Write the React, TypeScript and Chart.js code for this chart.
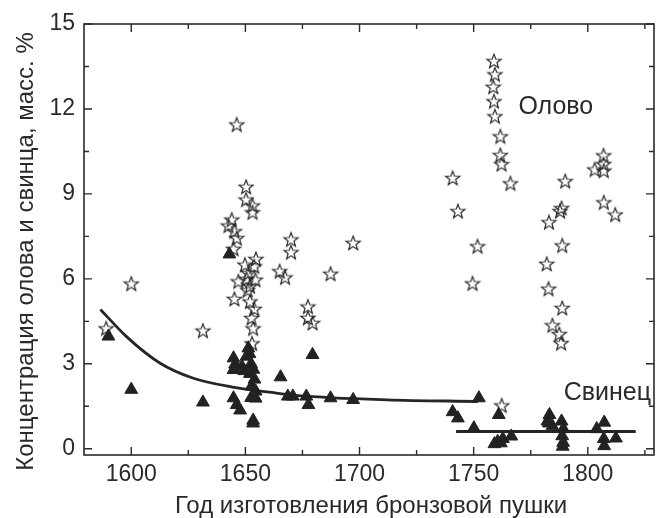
import React, { useEffect, useRef } from 'react';
import { Chart, registerables } from 'chart.js';

Chart.register(...registerables);

// ---- Data ----
const tinYears = [
  1589, 1600, 1631.4, 1646.2,
  1650.3, 1650.3, 1653.1, 1653.1, 1644, 1642.6, 1645.2, 1646.2, 1644.8,
  1654.6, 1649.8, 1653.9, 1651.3, 1646.9, 1654.4, 1652, 1645.2, 1652, 1653.9, 1652.7, 1653.4, 1652.9, 1650.5, 1651,
  1665, 1667.4, 1670, 1670, 1677.4, 1677.4, 1679.4, 1687.3, 1697.2,
  1740.8, 1743.1, 1751.7, 1749.5,
  1758.9, 1759.3, 1758.6, 1758.9, 1759.3, 1761.7, 1761.7, 1762.2, 1766.1, 1762.3,
  1790.1, 1788.5, 1787.8, 1783, 1788.8, 1782, 1782.8, 1788.8, 1784.5, 1787.5, 1788.3,
  1803, 1806.9, 1806.9, 1807, 1807, 1812,
];
const tinValues = [
  4.25, 5.83, 4.17, 11.45,
  9.25, 8.8, 8.59, 8.35, 8.09, 7.88, 7.68, 7.44, 7.06,
  6.7, 6.5, 6.44, 6.21, 5.91, 5.97, 5.74, 5.29, 5.2, 4.94, 4.62, 4.25, 3.72, 6.0, 5.6,
  6.27, 6.05, 7.39, 6.94, 5.02, 4.62, 4.44, 6.18, 7.27,
  9.56, 8.39, 7.15, 5.84,
  13.69, 13.22, 12.78, 12.27, 11.74, 11.03, 10.37, 10.05, 9.37, 1.53,
  9.45, 8.5, 8.39, 8.0, 7.18, 6.53, 5.65, 4.97, 4.36, 4.05, 3.73,
  9.86, 10.36, 10.05, 9.82, 8.7, 8.27,
];

const leadYears = [
  1590, 1600, 1631.4, 1643,
  1644.8, 1645.5, 1644.8, 1651.3, 1651.8, 1650.5, 1652.5, 1653.5, 1652, 1654, 1652.8, 1654.5, 1652.5, 1654.5,
  1644.8, 1646.2, 1647.7, 1653.4, 1653.4, 1648.5, 1649.5,
  1665.4, 1668.6, 1670.8, 1676.7, 1677.6, 1679.4, 1687.3, 1697.2,
  1752.3, 1740.8, 1743.1, 1750.1, 1761, 1759.1, 1761.9, 1762.8, 1766.5, 1760.5,
  1783.2, 1782.3, 1784.5, 1783, 1788.5, 1789.3, 1788.8, 1789.2, 1789,
  1803.9, 1807.2, 1807, 1807.2, 1812.3,
];
const leadValues = [
  3.97, 2.09, 1.64, 6.87,
  3.2, 2.98, 2.79, 3.55, 3.35, 3.26, 3.0, 2.8, 2.65, 2.45, 2.22, 2.03, 1.8, 1.78,
  1.79, 1.55, 1.36, 1.0, 0.9, 2.9, 2.75,
  2.53, 1.85, 1.85, 1.85, 1.55, 3.32, 1.79, 1.73,
  1.79, 1.3, 1.08, 0.73, 1.2, 0.17, 0.2, 0.35, 0.44, 0.25,
  1.2, 0.97, 0.8, 0.9, 0.97, 0.7, 0.45, 0.22, 0.08,
  0.7, 0.93, 0.35, 0.1, 0.37,
];

// fitted trend lines
const fitEarlyYears = [1586.5, 1597.8, 1612.5, 1626.9, 1644.3, 1663.1, 1673, 1712, 1751.8];
const fitEarlyValues = [4.92, 3.97, 3.03, 2.5, 2.18, 1.97, 1.88, 1.73, 1.67];
const fitLateYears = [1742.3, 1821];
const fitLateValues = [0.61, 0.61];

const xTickValues = [1600, 1650, 1700, 1750, 1800];
const xMinorValues = [1625, 1675, 1725, 1775, 1825];
const yTickValues = [0, 3, 6, 9, 12, 15];
const yMinorValues = [1.5, 4.5, 7.5, 10.5, 13.5];

const xTitle = 'Год изготовления бронзовой пушки';
const yTitle = 'Концентрация олова и свинца, масс. %';
const tinLabel = 'Олово';
const leadLabel = 'Свинец';
const tinLabelAt = [1786, 12.08];
const leadLabelAt = [1808.6, 1.98];

const FONT = '"Liberation Sans", Arial, sans-serif';
const INK = '#2a2a2a';

function makeStar(): HTMLCanvasElement {
  const c = document.createElement('canvas');
  c.width = 18;
  c.height = 18;
  const ctx = c.getContext('2d')!;
  const cx = 9, cy = 9.5, R = 7.4, r = 3.1;
  ctx.beginPath();
  for (let i = 0; i < 10; i++) {
    const rad = i % 2 === 0 ? R : r;
    const a = -Math.PI / 2 + (i * Math.PI) / 5;
    const px = cx + rad * Math.cos(a);
    const py = cy + rad * Math.sin(a);
    if (i === 0) ctx.moveTo(px, py);
    else ctx.lineTo(px, py);
  }
  ctx.closePath();
  ctx.strokeStyle = '#262626';
  ctx.lineWidth = 1.2;
  ctx.stroke();
  return c;
}

const framePlugin = {
  id: 'frameAndText',
  afterDatasetsDraw(chart: any) {
    const { ctx, chartArea: a, scales } = chart;
    const xs = scales.x, ys = scales.y;
    ctx.save();
    ctx.strokeStyle = INK;
    ctx.lineWidth = 1.6;
    ctx.strokeRect(a.left, a.top, a.right - a.left, a.bottom - a.top);
    const tick = (vals: number[], len: number) => {
      vals.forEach((v) => {
        const px = xs.getPixelForValue(v);
        if (px < a.left || px > a.right) return;
        ctx.beginPath();
        ctx.moveTo(px, a.bottom); ctx.lineTo(px, a.bottom - len);
        ctx.moveTo(px, a.top); ctx.lineTo(px, a.top + len);
        ctx.stroke();
      });
    };
    const tickY = (vals: number[], len: number) => {
      vals.forEach((v) => {
        const py = ys.getPixelForValue(v);
        if (py < a.top - 0.5 || py > a.bottom) return;
        ctx.beginPath();
        ctx.moveTo(a.left, py); ctx.lineTo(a.left + len, py);
        ctx.moveTo(a.right, py); ctx.lineTo(a.right - len, py);
        ctx.stroke();
      });
    };
    ctx.lineWidth = 1.4;
    tick(xTickValues, 8);
    tick(xMinorValues, 5);
    tickY(yTickValues, 8);
    tickY(yMinorValues, 5);

    ctx.fillStyle = INK;
    ctx.textAlign = 'center';
    ctx.textBaseline = 'middle';
    ctx.font = `24px ${FONT}`;
    ctx.fillText(xTitle, (a.left + a.right) / 2 + 2, 506.5);
    ctx.save();
    ctx.translate(26.5, (a.top + a.bottom) / 2 + 12);
    ctx.rotate(-Math.PI / 2);
    ctx.fillText(yTitle, 0, 0);
    ctx.restore();

    ctx.font = `25px ${FONT}`;
    ctx.fillText(tinLabel, xs.getPixelForValue(tinLabelAt[0]), ys.getPixelForValue(tinLabelAt[1]));
    ctx.fillText(leadLabel, xs.getPixelForValue(leadLabelAt[0]), ys.getPixelForValue(leadLabelAt[1]));
    ctx.restore();
  },
};

export default function App() {
  const ref = useRef<HTMLCanvasElement>(null);
  useEffect(() => {
    document.body.style.margin = '0';
    const star = makeStar();
    const toPts = (xs: number[], ys: number[]) => xs.map((x, i) => ({ x, y: ys[i] }));
    const chart = new Chart(ref.current!, {
      type: 'scatter',
      data: {
        datasets: [
          {
            label: 'fit1',
            data: toPts(fitEarlyYears, fitEarlyValues),
            showLine: true,
            borderColor: '#262626',
            borderWidth: 2.8,
            pointRadius: 0,
            cubicInterpolationMode: 'monotone',
            order: 2,
          },
          {
            label: 'fit2',
            data: toPts(fitLateYears, fitLateValues),
            showLine: true,
            borderColor: '#262626',
            borderWidth: 2.8,
            pointRadius: 0,
            order: 2,
          },
          {
            label: tinLabel,
            data: toPts(tinYears, tinValues),
            pointStyle: star as any,
            pointRadius: 8,
            order: 1,
          },
          {
            label: leadLabel,
            data: toPts(leadYears, leadValues),
            pointStyle: 'triangle',
            pointRadius: 7.4,
            backgroundColor: '#222',
            borderColor: '#222',
            borderWidth: 1,
            order: 0,
          },
        ],
      },
      options: {
        animation: false,
        responsive: false,
        maintainAspectRatio: false,
        events: [],
        layout: { padding: { top: 24, right: 3, left: 0, bottom: 0 } },
        plugins: { legend: { display: false }, tooltip: { enabled: false } },
        scales: {
          x: {
            type: 'linear',
            min: 1579.3,
            max: 1829,
            afterBuildTicks: (axis: any) => {
              axis.ticks = xTickValues.map((value) => ({ value }));
            },
            afterFit: (axis: any) => {
              axis.height = 63;
            },
            grid: { display: false, drawTicks: false },
            border: { display: false },
            ticks: {
              padding: 6,
              color: INK,
              font: { family: FONT, size: 23 },
              maxRotation: 0,
              callback: (v: any) => String(v),
            },
          },
          y: {
            type: 'linear',
            min: -0.22,
            max: 15,
            afterBuildTicks: (axis: any) => {
              axis.ticks = yTickValues.map((value) => ({ value }));
            },
            afterFit: (axis: any) => {
              axis.width = 84;
            },
            grid: { display: false, drawTicks: false },
            border: { display: false },
            ticks: {
              padding: 9,
              color: INK,
              font: { family: FONT, size: 23 },
              callback: (v: any) => String(v),
            },
          },
        },
      },
      plugins: [framePlugin],
    });
    return () => chart.destroy();
  }, []);
  return (
    <div style={{ position: 'absolute', left: 0, top: 0, width: 663, height: 518, background: '#fff' }}>
      <canvas ref={ref} width={663} height={518} style={{ width: 663, height: 518, display: 'block' }} />
    </div>
  );
}
